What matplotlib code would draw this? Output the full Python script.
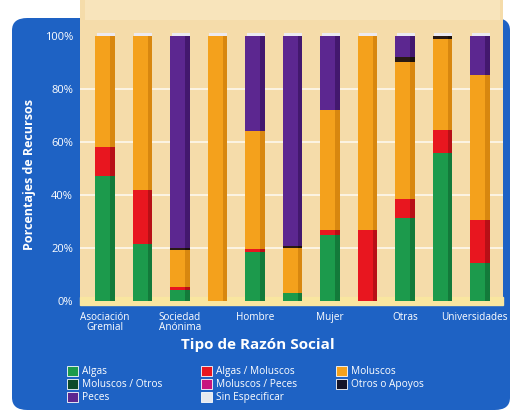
import numpy as np
import matplotlib.pyplot as plt
import matplotlib.transforms as mtransforms
from matplotlib.patches import FancyBboxPatch, Rectangle, Patch

plt.rcParams['font.family'] = ['Open Sans', 'DejaVu Sans']

# data (percent of resources per category)
bar_pos = np.arange(11)
tick_pos = [0, 2, 4, 6, 8, 10]
tick_labels = ['Asociación\nGremial', 'Sociedad\nAnónima', 'Hombre', 'Mujer', 'Otras', 'Universidades']

algas = np.array([47.2, 21.5, 4.2, 0, 18.4, 2.9, 24.9, 0, 31.5, 55.7, 14.2])
algas_moluscos = np.array([10.8, 20.5, 1.0, 0, 1.1, 0, 1.9, 26.8, 7.0, 8.8, 16.4])
moluscos = np.array([42.0, 58.0, 14.0, 100, 44.7, 17.0, 45.2, 73.2, 51.8, 34.5, 54.7])
otros_apoyos = np.array([0, 0, 0.8, 0, 0, 0.8, 0, 0, 1.7, 1.0, 0])
peces = np.array([0, 0, 80.0, 0, 35.8, 79.3, 28.0, 0, 8.0, 0, 14.7])

series = [algas, algas_moluscos, moluscos, otros_apoyos, peces]
colors = ['#1c9a4c', '#e8161f', '#f4a11c', '#2a1a14', '#5c2790']
sides = ['#137a3a', '#b80f16', '#d8870f', '#1a100c', '#43186e']

blue = '#1e62c4'
tan = '#f5dcaa'

fig = plt.figure(figsize=(5.12, 4.12), dpi=100)
fig.patch.set_facecolor('white')

# blue panel and tan plotting area
fig.patches.append(FancyBboxPatch((12 / 512, 2 / 412), 498 / 512, 392 / 412,
                                  boxstyle='round,pad=0,rounding_size=0.03',
                                  transform=fig.transFigure, fc=blue, ec='none', zorder=-3))
fig.patches.append(Rectangle((80 / 512, 107 / 412), 423 / 512, 305 / 412,
                             transform=fig.transFigure, fc=tan, ec='none', zorder=-2))
fig.patches.append(Rectangle((85 / 512, 392 / 412), 415 / 512, 20 / 412,
                             transform=fig.transFigure, fc='#f8e4bb', ec='none', zorder=-1))

ax = fig.add_axes([80 / 512, 111 / 412, 423 / 512, 265 / 412])
ax.set_zorder(2)
ax.set_facecolor('none')
ax.set_xlim(-0.667, 10.613)
ax.set_ylim(0, 100)

for y in [20, 40, 60, 80]:
    ax.axhline(y, color='white', lw=1.2, alpha=0.8, zorder=1)
ax.axhspan(-1.5, 1.5, color='#f9e6a0', zorder=1, clip_on=False)

w = 0.52
bottom = np.zeros(11)
for vals, c, s in zip(series, colors, sides):
    ax.bar(bar_pos - 0.04, vals, w - 0.08, bottom=bottom, color=c, zorder=3)
    ax.bar(bar_pos + w / 2 - 0.06, vals, 0.12, bottom=bottom, color=s, zorder=3)
    bottom += vals
# top caps
ax.bar(bar_pos + 0.02, 1.2, w - 0.04, bottom=bottom, color='#eceaf2', zorder=3, clip_on=False)

for sp in ax.spines.values():
    sp.set_visible(False)

ax.set_yticks([0, 20, 40, 60, 80, 100])
ax.set_yticklabels(['0%', '20%', '40%', '60%', '80%', '100%'], color='white', fontsize=8)
ax.set_xticks(tick_pos)
ax.set_xticklabels(tick_labels, color='white', fontsize=7.2, linespacing=0.9)
ax.tick_params(axis='y', length=0, pad=5)
ax.tick_params(axis='x', length=0, pad=8)
# nudge last label so it stays inside the figure
last = ax.get_xticklabels()[-1]
last.set_transform(last.get_transform() + mtransforms.ScaledTranslation(-6 / 100, 0, fig.dpi_scale_trans))

fig.text(30 / 512, 1 - 175 / 412, 'Porcentajes de Recursos', rotation=90, color='white',
         fontsize=9, fontweight='bold', ha='center', va='center')
fig.text(258 / 512, 1 - 345 / 412, 'Tipo de Razón Social', color='white',
         fontsize=11, fontweight='bold', ha='center', va='center')

handles = [
    Patch(fc='#1c9a4c', ec='white', lw=0.6, label='Algas'),
    Patch(fc='#0d4a2a', ec='white', lw=0.6, label='Moluscos / Otros'),
    Patch(fc='#5c2790', ec='white', lw=0.6, label='Peces'),
    Patch(fc='#e8161f', ec='white', lw=0.6, label='Algas / Moluscos'),
    Patch(fc='#c8147e', ec='white', lw=0.6, label='Moluscos / Peces'),
    Patch(fc='#e6e8ee', ec='white', lw=0.6, label='Sin Especificar'),
    Patch(fc='#f4a11c', ec='white', lw=0.6, label='Moluscos'),
    Patch(fc='#14142a', ec='white', lw=0.6, label='Otros o Apoyos'),
]
leg = fig.legend(handles=handles, ncol=3, loc='upper left',
                 bbox_to_anchor=(58 / 512, 1 - 357 / 412), frameon=False,
                 fontsize=7.3, handlelength=1.1, handleheight=1.1,
                 handletextpad=0.4, columnspacing=3.8, labelspacing=0.15)
for t in leg.get_texts():
    t.set_color('white')

fig.savefig('out.png', dpi=100)
